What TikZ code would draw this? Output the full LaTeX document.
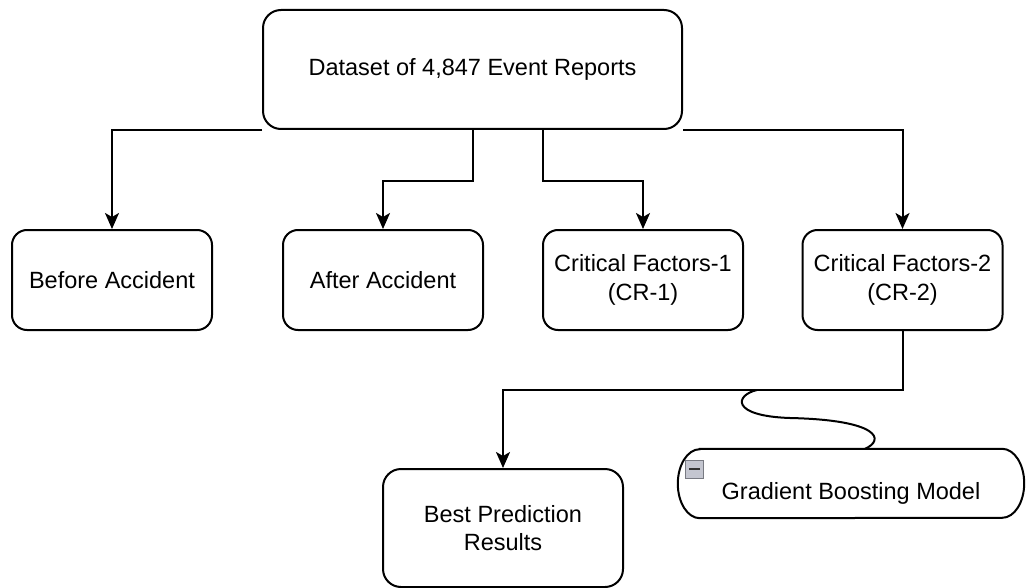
\documentclass[tikz,border=0pt]{standalone}
\usepackage{fontspec}
\setmainfont{Liberation Sans}
\usepackage{xcolor}
\definecolor{IconGray}{RGB}{196,198,208}
\definecolor{IconEdge}{RGB}{120,122,130}
\usepackage{tikz}
\usetikzlibrary{math,arrows.meta}
\tikzset{%
  flow box/.style={draw, line width=2pt, fill=white, rounded corners=15pt, align=center, inner sep=0pt},
  flow line/.style={line width=2pt},
  flow arrow/.style={flow line, -{Stealth[length=16pt,width=14pt,inset=4pt]}},
  icon box/.style={draw=IconEdge, fill=IconGray, line width=0.8pt, minimum size=18pt, inner sep=0pt}
}

\begin{document}
\begin{tikzpicture}[x=1pt,y=-1pt,font=\fontsize{23.5}{28.5}\selectfont]
    \tikzmath{
      \w=200;% factor box width
      \h=100;% factor box height
      \yb=280;% row of the factor boxes
      \ys=390;% level of the split below CR-2
    }
    \useasboundingbox (0,0) rectangle (1027,588);
    % Dataset on top.
    \node[flow box, rounded corners=18pt, minimum width=419pt, minimum height=119pt]
      (dataset) at (472.5,69.5) {Dataset of 4,847 Event Reports};
    % Row of factor boxes.
    \node[flow box, minimum width=\w pt, minimum height=\h pt] (before) at (112,\yb) {Before Accident};
    \node[flow box, minimum width=\w pt, minimum height=\h pt] (after) at (383,\yb) {After Accident};
    \node[flow box, minimum width=\w pt, minimum height=\h pt] (cf1) at (643,\yb) {Critical Factors-1\\(CR-1)};
    \node[flow box, minimum width=\w pt, minimum height=\h pt] (cf2) at (902.5,\yb) {Critical Factors-2\\(CR-2)};
    % Results and model.
    \node[flow box, rounded corners=18pt, minimum width=240pt, minimum height=118pt]
      (best) at (503,528) {Best Prediction\\Results};
    \node[minimum width=346pt, minimum height=69pt, text height=32pt, text depth=0pt, inner sep=0pt]
      (gbm) at (851,483.5) {Gradient Boosting Model};
    \draw[flow line] ([xshift=22pt]gbm.north west) -- ([xshift=-22pt]gbm.north east)
      arc[start angle=90, end angle=-90, x radius=22pt, y radius=34.5pt]
      -- ([xshift=22pt]gbm.south west)
      arc[start angle=270, end angle=90, x radius=22pt, y radius=34.5pt] -- cycle;
    \node[icon box] (collapse) at (694.5,469) {};
    \draw[line width=1.8pt, black!80] ([xshift=4pt]collapse.west) -- ([xshift=-4pt]collapse.east);
    % Connectors from the dataset.
    \draw[flow arrow] (dataset.south west) -| (before.north);
    \draw[flow arrow] (dataset.south) -- ++(0,51) -| (after.north);
    \draw[flow arrow] ([xshift=70pt]dataset.south) -- ++(0,51) -| (cf1.north);
    \draw[flow arrow] (dataset.south east) -| (cf2.north);
    % Split below CR-2.
    \draw[flow arrow] (cf2.south) -- ++(0,59) -| (best.north);
    \coordinate (split) at (757,\ys);
    \draw[flow line] (split) .. controls (735,395) and (730,416) .. (790,418)
      .. controls (880,420) and (885,440) .. ([xshift=14pt]gbm.north);
\end{tikzpicture}
\end{document}
